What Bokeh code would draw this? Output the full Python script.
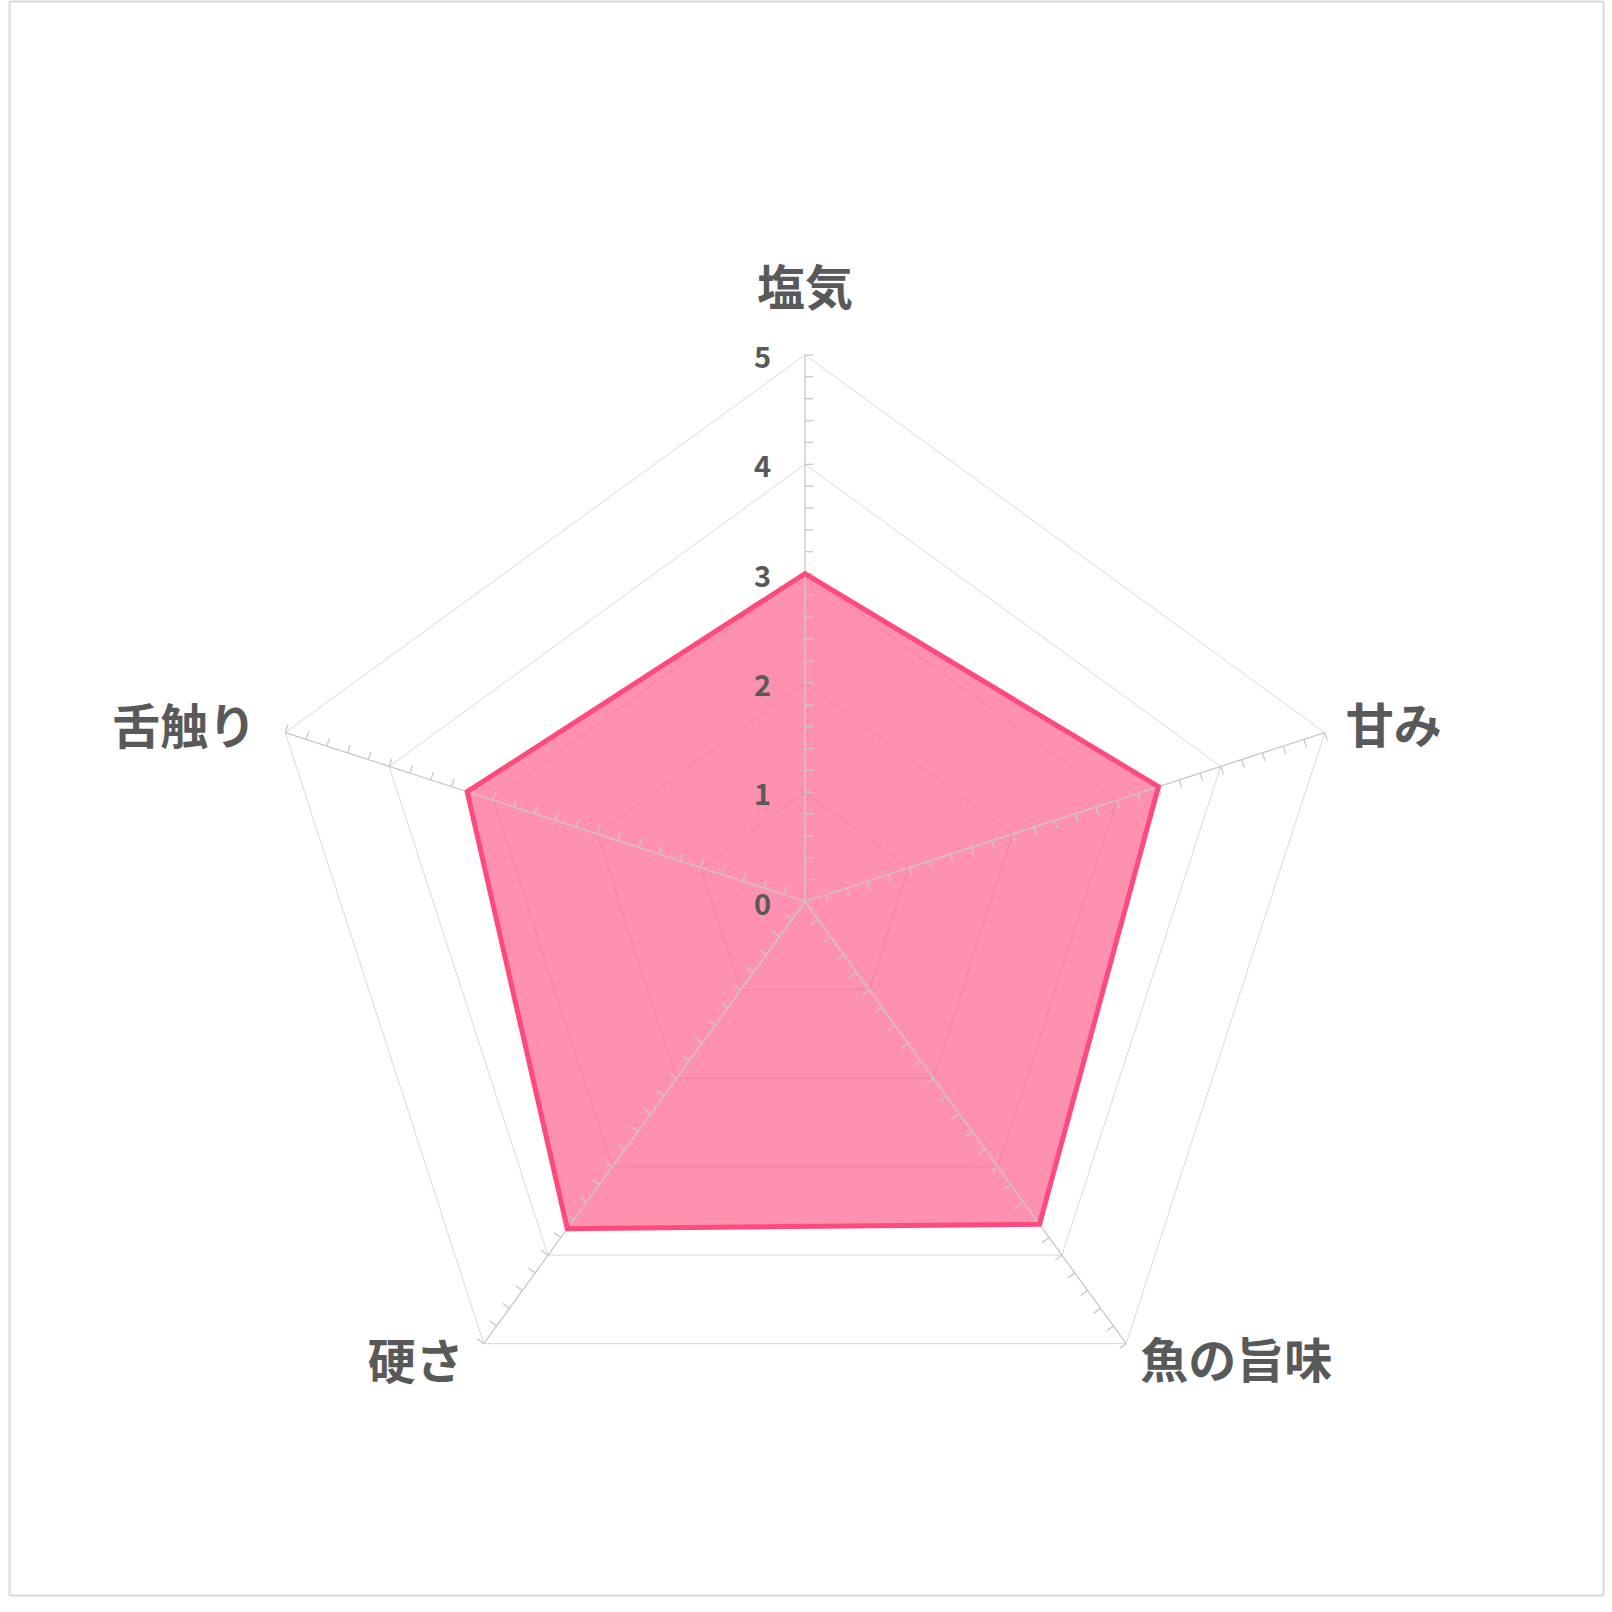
import numpy as np
from bokeh.plotting import figure
from bokeh.models import Range1d, ColumnDataSource
from bokeh.core.properties import value
from bokeh.embed import file_html
from bokeh.resources import INLINE

# ---- data ----
categories = ["塩気", "甘み", "魚の旨味", "硬さ", "舌触り"]
scores = [3.0, 3.4, 3.65, 3.7, 3.25]
tick_values = [0, 1, 2, 3, 4, 5]
tick_labels = ["0", "1", "2", "3", "4", "5"]
r_max = 5.0
minor_step = 0.2

# ---- style ----
UNIT = 109.3            # px per unit
W, H = 1612, 1612
BL, BT, BR, BB = 9, 1, 9, 17   # borders around frame
FONT = value("Noto Sans CJK JP")
TXT = "#595959"
GRID = "#d9d9d9"
SPOKE = "#c8c8c8"
FILL = "#ff4d80"
LINE = "#ff4a7d"
# label pixel offsets from r_max vertex (dx right, dy up) and alignment
label_style = {
    "塩気": (0, 71, "center"),
    "甘み": (21, 11, "left"),
    "魚の旨味": (14, -13, "left"),
    "硬さ": (-20, -14, "right"),
    "舌触り": (-29, 10, "right"),
}

n = len(categories)
angles = np.deg2rad(90 - 360.0 / n * np.arange(n))

fw, fh = W - BL - BR, H - BT - BB
cx_px, cy_px = 804.5 - BL, 901.0 - BT
p = figure(width=W, height=H, output_backend="svg", toolbar_location=None,
           x_range=Range1d(-cx_px / UNIT, (fw - cx_px) / UNIT),
           y_range=Range1d(-(fh - cy_px) / UNIT, cy_px / UNIT),
           min_border_left=BL, min_border_top=BT,
           min_border_right=BR, min_border_bottom=BB)
p.axis.visible = False
p.grid.visible = False
p.outline_line_color = "#d9d9d9"
p.outline_line_width = 2
p.background_fill_color = "white"
p.border_fill_color = "white"

cos_a, sin_a = np.cos(angles), np.sin(angles)

# grid pentagons
gx = [list(r * cos_a) for r in tick_values[1:]]
gy = [list(r * sin_a) for r in tick_values[1:]]
p.patches(gx, gy, fill_color=None, line_color=GRID, line_width=1)

# data fill
sx = np.array(scores) * cos_a
sy = np.array(scores) * sin_a
p.patch(list(sx), list(sy), fill_color=FILL, fill_alpha=0.62, line_color=None)

# spokes
p.segment(x0=[0] * n, y0=[0] * n, x1=list(r_max * cos_a), y1=list(r_max * sin_a),
          line_color=SPOKE, line_width=1.3)

# minor ticks (clockwise side)
L = 8.3 / UNIT
tv = np.round(np.arange(minor_step, r_max + 1e-9, minor_step), 3)
x0s, y0s, x1s, y1s = [], [], [], []
for a in angles:
    ta = a - np.pi / 2
    for t in tv:
        bx, by = t * np.cos(a), t * np.sin(a)
        x0s.append(bx); y0s.append(by)
        x1s.append(bx + L * np.cos(ta)); y1s.append(by + L * np.sin(ta))
p.segment(x0=x0s, y0=y0s, x1=x1s, y1=y1s, line_color=SPOKE, line_width=1.3)

# data outline
p.patch(list(sx), list(sy), fill_color=None, line_color=LINE, line_width=5,
        line_join="miter")

# value tick labels
src_t = ColumnDataSource(dict(x=[-34 / UNIT] * len(tick_values),
                              y=[v - 2 / UNIT for v in tick_values],
                              t=tick_labels))
p.text(x="x", y="y", text="t", source=src_t, text_font=FONT, text_font_style="bold",
       text_font_size="29px", text_color=TXT, text_align="right",
       text_baseline="middle")

# category labels
lx, ly, la = [], [], []
for c, a in zip(categories, angles):
    dx, dy, al = label_style[c]
    lx.append(r_max * np.cos(a) + dx / UNIT)
    ly.append(r_max * np.sin(a) + dy / UNIT)
    la.append(al)
src_l = ColumnDataSource(dict(x=lx, y=ly, t=categories, al=la))
p.text(x="x", y="y", text="t", source=src_l, text_font=FONT, text_font_style="bold",
       text_font_size="48px", text_color=TXT, text_align="al",
       text_baseline="middle")

open("out.html", "w").write(file_html(p, INLINE))
